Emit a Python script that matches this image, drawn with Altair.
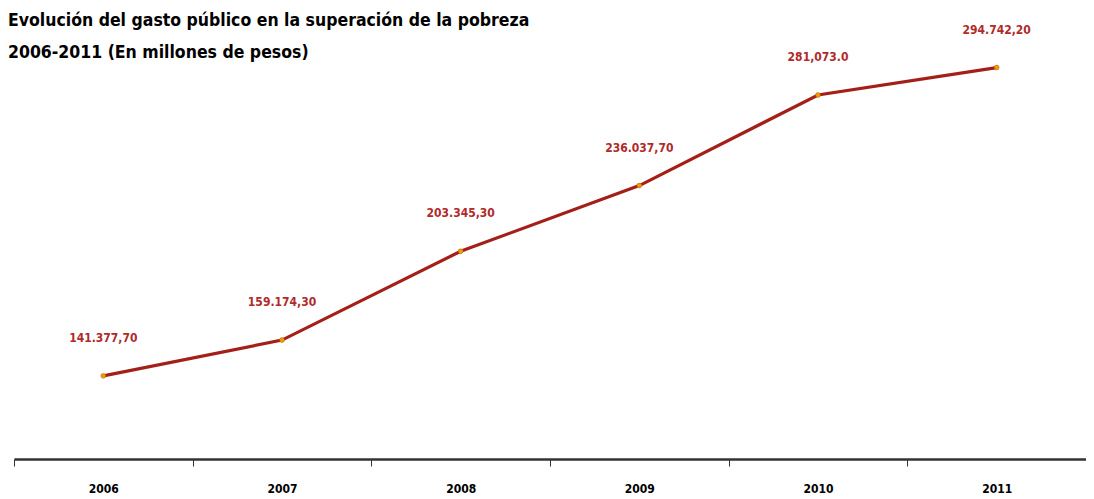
import altair as alt
import pandas as pd

years = ["2006", "2007", "2008", "2009", "2010", "2011"]
values = [141377.70, 159174.30, 203345.30, 236037.70, 281073.0, 294742.20]
labels = ["141.377,70", "159.174,30", "203.345,30", "236.037,70", "281,073.0", "294.742,20"]

df = pd.DataFrame({"year": years, "value": values, "label": labels})

FONT = "DejaVu Sans Condensed, Liberation Sans, sans-serif"

x = alt.X("year:N", sort=years, title=None,
          scale=alt.Scale(paddingInner=0, paddingOuter=0),
          axis=alt.Axis(labelAngle=0, tickBand="extent", domainColor="#333333",
                        domainWidth=2.5, tickColor="#333333", tickWidth=1, tickSize=7,
                        labelPadding=17, labelFont=FONT, labelFontSize=12,
                        labelFontWeight="bold", labelColor="#000000", grid=False))
y = alt.Y("value:Q", title=None, scale=alt.Scale(domain=[100000, 300000], zero=False),
          axis=None)

base = alt.Chart(df).encode(x=x, y=y)

line = base.mark_line(color="#a31f18", strokeWidth=3.2)
pts = base.mark_point(filled=True, color="#e8a000", size=24, opacity=1,
                      stroke="#c05010", strokeWidth=0.5)
txt = base.mark_text(dy=-38, font=FONT, fontSize=12, fontWeight="bold",
                     color="#b02a2a").encode(text="label:N")

chart = alt.layer(line, pts, txt).properties(
    width=1072, height=402,
    background="#ffffff",
    title=alt.TitleParams(
        ["Evolución del gasto público en la superación de la pobreza",
         "2006-2011 (En millones de pesos)"],
        anchor="start", frame="group", font=FONT, fontSize=17.5, fontWeight="bold",
        color="#000000", lineHeight=32, baseline="top", offset=0, dy=38, dx=-6),
    autosize=alt.AutoSizeParams(type="none"),
    padding={"left": 6, "top": 49, "right": 0, "bottom": 38},
).configure_view(strokeWidth=0, stroke="transparent")

chart.save("out.html", embed_options={"renderer": "svg", "actions": False})
